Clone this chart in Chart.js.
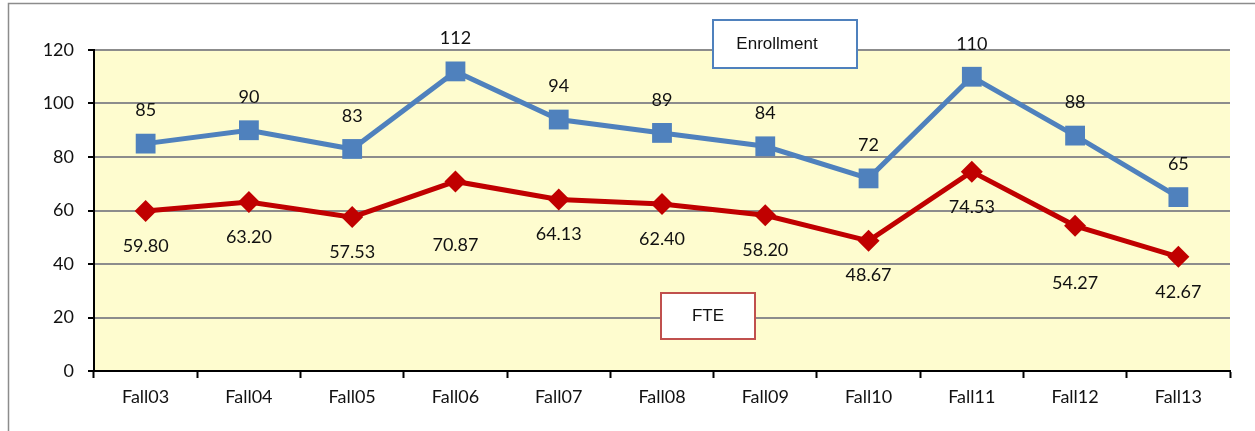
<!DOCTYPE html>
<html>
<head>
<meta charset="utf-8">
<script src="https://cdn.jsdelivr.net/npm/chart.js@4.4.1/dist/chart.umd.min.js"></script>
<style>
  html, body { margin: 0; padding: 0; background: #fff; }
  #wrap { width: 1255px; height: 431px; position: relative; }
</style>
</head>
<body>
<div id="wrap"><canvas id="grafico"></canvas></div>
<script>
const semestres = ['Fall03', 'Fall04', 'Fall05', 'Fall06', 'Fall07', 'Fall08', 'Fall09', 'Fall10', 'Fall11', 'Fall12', 'Fall13'];
const enrollment = [85, 90, 83, 112, 94, 89, 84, 72, 110, 88, 65];
const fte = [59.80, 63.20, 57.53, 70.87, 64.13, 62.40, 58.20, 48.67, 74.53, 54.27, 42.67];

const AZUL = '#4F81BD';
const VERMELHO = '#C00000';
const FONTE = 'Lato, "Open Sans", sans-serif';

// fundo amarelo, moldura e caixas de legenda
const decoracao = {
    id: 'decoracao',
    beforeDraw(chart) {
        const { ctx, chartArea: a } = chart;
        ctx.save();
        ctx.fillStyle = '#FFFFFF';
        ctx.fillRect(0, 0, chart.width, chart.height);
        ctx.fillStyle = '#FEFCCF';
        ctx.fillRect(a.left, a.top, a.right - a.left, a.bottom - a.top);
        ctx.strokeStyle = '#8C8C8C';
        ctx.lineWidth = 1.5;
        ctx.strokeRect(8.5, 3.5, 1400, 600);
        ctx.restore();
    },
    afterDatasetsDraw(chart) {
        const { ctx } = chart;
        ctx.save();
        ctx.font = '17px "Liberation Sans", Arial, sans-serif';
        ctx.textAlign = 'center';
        ctx.textBaseline = 'middle';
        const caixas = [
            { txt: 'Enrollment', x: 713, y: 20, w: 144, h: 48, tx: 777, cor: AZUL },
            { txt: 'FTE', x: 661, y: 293, w: 94, h: 46, tx: 708, cor: '#C0504D' }
        ];
        caixas.forEach(c => {
            ctx.fillStyle = '#fff';
            ctx.fillRect(c.x, c.y, c.w, c.h);
            ctx.strokeStyle = c.cor;
            ctx.lineWidth = 2;
            ctx.strokeRect(c.x, c.y, c.w, c.h);
            ctx.fillStyle = '#111';
            ctx.fillText(c.txt, c.tx, c.y + c.h / 2);
        });
        ctx.restore();
    }
};

// rótulos de valores
const rotulos = {
    id: 'rotulos',
    afterDatasetsDraw(chart) {
        const { ctx } = chart;
        const deslocFte = [35, 35, 35, 64, 35, 35, 35, 34, 36, 57, 35];
        ctx.save();
        ctx.font = '18px ' + FONTE;
        ctx.fillStyle = '#111';
        ctx.textAlign = 'center';
        ctx.textBaseline = 'middle';
        chart.getDatasetMeta(0).data.forEach((p, i) => {
            ctx.fillText(String(enrollment[i]), p.x, p.y - 33);
        });
        chart.getDatasetMeta(1).data.forEach((p, i) => {
            ctx.fillText(fte[i].toFixed(2), p.x, p.y + deslocFte[i]);
        });
        ctx.restore();
    }
};

new Chart(document.getElementById('grafico'), {
    type: 'line',
    data: {
        labels: semestres,
        datasets: [{
            label: 'Enrollment',
            data: enrollment,
            borderColor: AZUL,
            backgroundColor: AZUL,
            borderWidth: 5,
            pointStyle: 'rect',
            pointRadius: 14,
            pointBorderWidth: 0,
            tension: 0
        }, {
            label: 'FTE',
            data: fte,
            borderColor: VERMELHO,
            backgroundColor: VERMELHO,
            borderWidth: 5,
            pointStyle: 'rectRot',
            pointRadius: 11,
            pointBorderWidth: 0,
            tension: 0
        }]
    },
    options: {
        responsive: true,
        maintainAspectRatio: false,
        animation: false,
        layout: { padding: { left: 8, top: 50, right: 25, bottom: 0 } },
        plugins: {
            legend: { display: false },
            tooltip: { enabled: false }
        },
        scales: {
            x: {
                offset: true,
                grid: {
                    offset: true,
                    drawOnChartArea: false,
                    tickColor: '#000',
                    tickLength: 7,
                    tickWidth: 2
                },
                border: { color: '#000', width: 2 },
                ticks: {
                    color: '#111',
                    font: { family: FONTE, size: 18 },
                    padding: 8,
                    maxRotation: 0
                },
                afterFit(scale) { scale.height = 60; }
            },
            y: {
                min: 0,
                max: 120,
                ticks: {
                    stepSize: 20,
                    color: '#111',
                    font: { family: FONTE, size: 18 },
                    padding: 14
                },
                grid: {
                    color: '#8C8C8C',
                    lineWidth: 2,
                    tickColor: '#000',
                    tickLength: 6,
                    tickWidth: 2
                },
                border: { color: '#000', width: 2 },
                afterFit(scale) { scale.width = 86; }
            }
        }
    },
    plugins: [decoracao, rotulos]
});
</script>
</body>
</html>
